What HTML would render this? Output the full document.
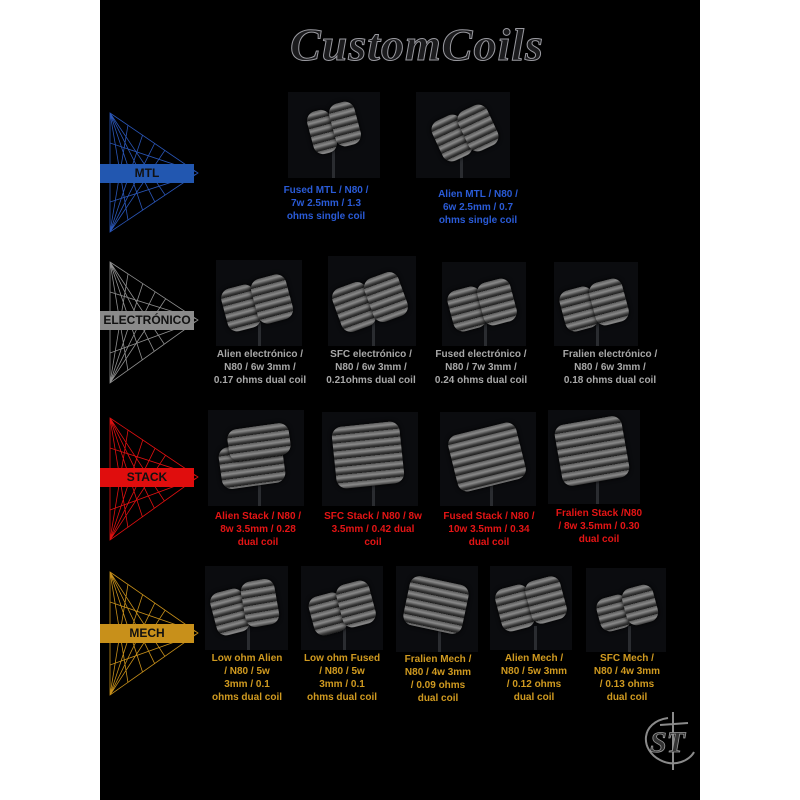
<!DOCTYPE html>
<html><head><meta charset="utf-8"><style>
*{margin:0;padding:0;box-sizing:border-box}
body{width:800px;height:800px;background:#fff;position:relative;overflow:hidden;font-family:"Liberation Sans",sans-serif}
#bg{position:absolute;left:100px;top:0;width:600px;height:800px;background:#000}
.img{position:absolute;background:#0b0c0f;overflow:hidden}
.c{position:absolute;border-radius:10px;background:repeating-linear-gradient(180deg,#5a5a5a 0,#8a8a8a 3px,#3a3a3a 6px,#1e1e1e 8px);box-shadow:0 0 4px #000}
.leg{position:absolute;width:3px;height:30px;background:#2a2c30}
.t{position:absolute;font-weight:bold;font-size:10px;line-height:13px;text-align:center;width:130px;margin-left:-65px;white-space:nowrap}
.b{position:absolute;left:100px;width:94px;height:19px;font-weight:bold;font-size:12px;line-height:19px;text-align:center;color:#111}
svg{position:absolute}
</style></head><body>
<div id="bg"></div>
<div style="position:absolute;left:262px;top:18px;width:310px;text-align:center;font-family:'Liberation Serif',serif;font-size:46px;font-weight:bold;color:#1b1b1d;-webkit-text-stroke:1px #9a9aa0;letter-spacing:1px;font-style:italic">CustomCoils</div>

<svg width="800" height="800" style="left:0;top:0">
<defs>
<clipPath id="k1"><polygon points="110,113 198,173 110,232"/></clipPath>
<clipPath id="k2"><polygon points="110,262 198,320 110,383"/></clipPath>
<clipPath id="k3"><polygon points="110,418 198,477 110,540"/></clipPath>
<clipPath id="k4"><polygon points="110,572 198,633 110,695"/></clipPath>
</defs>
<g fill="none" stroke-width="0.8">
<g stroke="#2a56b8"><polygon points="110,113 198,173 110,232"/>
<g clip-path="url(#k1)"><g transform="translate(0,113)"><path d="M110,0 L130,119 M110,0 L150,119 M110,0 L170,119 M110,0 L190,119 M110,119 L130,0 M110,119 L150,0 M110,119 L170,0 M110,119 L190,0 M110,30 L200,60 M110,89 L200,60"/></g></g></g>
<g stroke="#909090"><polygon points="110,262 198,320 110,383"/>
<g clip-path="url(#k2)"><g transform="translate(0,262)"><path d="M110,0 L130,121 M110,0 L150,121 M110,0 L170,121 M110,0 L190,121 M110,121 L130,0 M110,121 L150,0 M110,121 L170,0 M110,121 L190,0 M110,30 L200,58 M110,91 L200,58"/></g></g></g>
<g stroke="#e01010"><polygon points="110,418 198,477 110,540"/>
<g clip-path="url(#k3)"><g transform="translate(0,418)"><path d="M110,0 L130,122 M110,0 L150,122 M110,0 L170,122 M110,0 L190,122 M110,122 L130,0 M110,122 L150,0 M110,122 L170,0 M110,122 L190,0 M110,30 L200,59 M110,92 L200,59"/></g></g></g>
<g stroke="#c8901a"><polygon points="110,572 198,633 110,695"/>
<g clip-path="url(#k4)"><g transform="translate(0,572)"><path d="M110,0 L130,123 M110,0 L150,123 M110,0 L170,123 M110,0 L190,123 M110,123 L130,0 M110,123 L150,0 M110,123 L170,0 M110,123 L190,0 M110,30 L200,61 M110,93 L200,61"/></g></g></g>
</g>
<g fill="none" stroke="#8a8a8a" stroke-width="2">
<path d="M668,718 C640,722 640,750 660,760 C675,768 690,760 694,752"/>
<path d="M660,725 L688,723 M673,712 L673,770"/>
</g>
<text x="650" y="752" fill="#333" stroke="#999" stroke-width="0.8" font-family="Liberation Serif" font-size="30" font-style="italic" font-weight="bold">ST</text>
</svg>

<div class="b" style="top:164px;background:#2257b0">MTL</div>
<div class="b" style="top:311px;background:#8a8a8a">ELECTRÓNICO</div>
<div class="b" style="top:468px;background:#e00d0d">STACK</div>
<div class="b" style="top:624px;background:#c8901a">MECH</div>

<!-- MTL -->
<div class="img" style="left:288px;top:92px;width:92px;height:86px"><div class="leg" style="left:44px;top:56px"></div><div class="c" style="left:22px;top:18px;width:24px;height:44px;transform:rotate(-15deg)"></div><div class="c" style="left:44px;top:10px;width:26px;height:44px;transform:rotate(-15deg)"></div></div>
<div class="img" style="left:416px;top:92px;width:94px;height:86px"><div class="leg" style="left:44px;top:60px"></div><div class="c" style="left:20px;top:24px;width:32px;height:44px;transform:rotate(-25deg)"></div><div class="c" style="left:46px;top:14px;width:32px;height:44px;transform:rotate(-25deg)"></div></div>
<div class="t" style="left:326px;top:184px;color:#2a5bd7">Fused MTL / N80 /<br>7w 2.5mm / 1.3<br>ohms single coil</div>
<div class="t" style="left:478px;top:188px;color:#2a5bd7">Alien MTL / N80 /<br>6w 2.5mm / 0.7<br>ohms single coil</div>

<!-- ELEC -->
<div class="img" style="left:216px;top:260px;width:86px;height:86px"><div class="leg" style="left:42px;top:62px"></div><div class="c" style="left:8px;top:26px;width:34px;height:44px;transform:rotate(-15deg)"></div><div class="c" style="left:38px;top:16px;width:36px;height:46px;transform:rotate(-15deg)"></div></div>
<div class="img" style="left:328px;top:256px;width:88px;height:90px"><div class="leg" style="left:44px;top:64px"></div><div class="c" style="left:8px;top:28px;width:36px;height:46px;transform:rotate(-20deg)"></div><div class="c" style="left:40px;top:18px;width:36px;height:46px;transform:rotate(-20deg)"></div></div>
<div class="img" style="left:442px;top:262px;width:84px;height:84px"><div class="leg" style="left:42px;top:60px"></div><div class="c" style="left:8px;top:26px;width:34px;height:42px;transform:rotate(-15deg)"></div><div class="c" style="left:38px;top:18px;width:34px;height:44px;transform:rotate(-15deg)"></div></div>
<div class="img" style="left:554px;top:262px;width:84px;height:84px"><div class="leg" style="left:42px;top:60px"></div><div class="c" style="left:8px;top:26px;width:34px;height:42px;transform:rotate(-15deg)"></div><div class="c" style="left:38px;top:18px;width:34px;height:44px;transform:rotate(-15deg)"></div></div>
<div class="t" style="left:260px;top:348px;color:#a8a8a8">Alien electrónico /<br>N80 / 6w 3mm /<br>0.17 ohms dual coil</div>
<div class="t" style="left:371px;top:348px;color:#a8a8a8">SFC electrónico /<br>N80 / 6w 3mm /<br>0.21ohms dual coil</div>
<div class="t" style="left:481px;top:348px;color:#a8a8a8">Fused electrónico /<br>N80 / 7w 3mm /<br>0.24 ohms dual coil</div>
<div class="t" style="left:610px;top:348px;color:#a8a8a8">Fralien electrónico /<br>N80 / 6w 3mm /<br>0.18 ohms dual coil</div>

<!-- STACK -->
<div class="img" style="left:208px;top:410px;width:96px;height:96px"><div class="leg" style="left:50px;top:70px"></div><div class="c" style="left:12px;top:34px;width:64px;height:42px;transform:rotate(-8deg)"></div><div class="c" style="left:20px;top:16px;width:62px;height:32px;transform:rotate(-8deg)"></div></div>
<div class="img" style="left:322px;top:412px;width:96px;height:94px"><div class="leg" style="left:50px;top:70px"></div><div class="c" style="left:12px;top:12px;width:68px;height:62px;transform:rotate(-6deg)"></div></div>
<div class="img" style="left:440px;top:412px;width:96px;height:94px"><div class="leg" style="left:50px;top:70px"></div><div class="c" style="left:12px;top:16px;width:70px;height:58px;transform:rotate(-14deg)"></div></div>
<div class="img" style="left:548px;top:410px;width:92px;height:94px"><div class="leg" style="left:48px;top:70px"></div><div class="c" style="left:10px;top:10px;width:68px;height:62px;transform:rotate(-10deg)"></div></div>
<div class="t" style="left:258px;top:510px;color:#e51515">Alien Stack / N80 /<br>8w 3.5mm / 0.28<br>dual coil</div>
<div class="t" style="left:373px;top:510px;color:#e51515">SFC Stack / N80 / 8w<br>3.5mm / 0.42 dual<br>coil</div>
<div class="t" style="left:489px;top:510px;color:#e51515">Fused Stack / N80 /<br>10w 3.5mm / 0.34<br>dual coil</div>
<div class="t" style="left:599px;top:507px;color:#e51515">Fralien Stack /N80<br>/ 8w 3.5mm / 0.30<br>dual coil</div>

<!-- MECH -->
<div class="img" style="left:205px;top:566px;width:83px;height:84px"><div class="leg" style="left:42px;top:60px"></div><div class="c" style="left:8px;top:24px;width:34px;height:44px;transform:rotate(-15deg)"></div><div class="c" style="left:38px;top:14px;width:34px;height:46px;transform:rotate(-10deg)"></div></div>
<div class="img" style="left:301px;top:566px;width:82px;height:84px"><div class="leg" style="left:42px;top:60px"></div><div class="c" style="left:10px;top:28px;width:34px;height:40px;transform:rotate(-15deg)"></div><div class="c" style="left:38px;top:16px;width:34px;height:44px;transform:rotate(-15deg)"></div></div>
<div class="img" style="left:396px;top:566px;width:82px;height:86px"><div class="leg" style="left:42px;top:60px"></div><div class="c" style="left:10px;top:14px;width:60px;height:50px;transform:rotate(12deg)"></div></div>
<div class="img" style="left:490px;top:566px;width:82px;height:84px"><div class="leg" style="left:44px;top:60px"></div><div class="c" style="left:8px;top:20px;width:34px;height:44px;transform:rotate(-15deg)"></div><div class="c" style="left:38px;top:12px;width:36px;height:44px;transform:rotate(-15deg)"></div></div>
<div class="img" style="left:586px;top:568px;width:80px;height:84px"><div class="leg" style="left:42px;top:58px"></div><div class="c" style="left:12px;top:28px;width:32px;height:34px;transform:rotate(-15deg)"></div><div class="c" style="left:38px;top:18px;width:32px;height:38px;transform:rotate(-15deg)"></div></div>
<div class="t" style="left:247px;top:652px;color:#d09a20">Low ohm Alien<br>/ N80 / 5w<br>3mm / 0.1<br>ohms dual coil</div>
<div class="t" style="left:342px;top:652px;color:#d09a20">Low ohm Fused<br>/ N80 / 5w<br>3mm / 0.1<br>ohms dual coil</div>
<div class="t" style="left:438px;top:653px;color:#d09a20">Fralien Mech /<br>N80 / 4w 3mm<br>/ 0.09 ohms<br>dual coil</div>
<div class="t" style="left:534px;top:652px;color:#d09a20">Alien Mech /<br>N80 / 5w 3mm<br>/ 0.12 ohms<br>dual coil</div>
<div class="t" style="left:627px;top:652px;color:#d09a20">SFC Mech /<br>N80 / 4w 3mm<br>/ 0.13 ohms<br>dual coil</div>
</body></html>
